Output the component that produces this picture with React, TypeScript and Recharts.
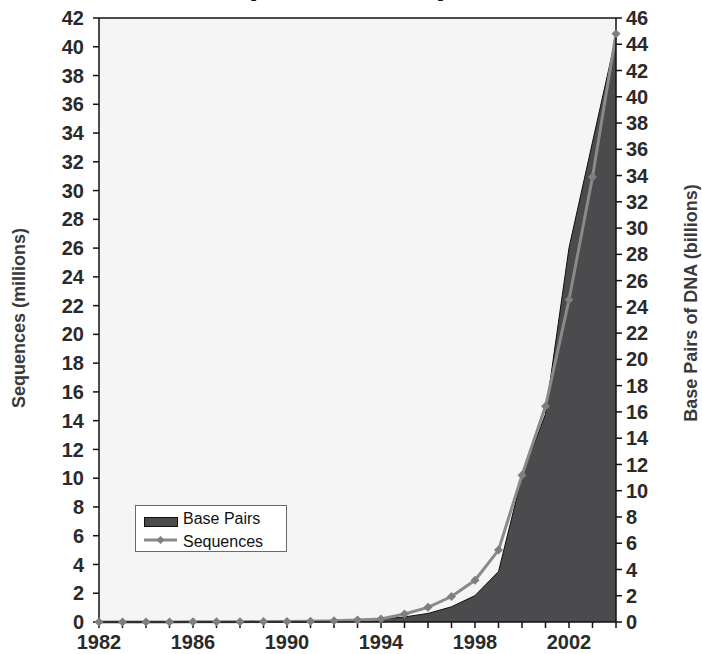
import {
  Area,
  CartesianGrid,
  ComposedChart,
  Legend,
  Line,
  ReferenceLine,
  XAxis,
  YAxis,
} from "recharts";

const YEARS = [
  1982, 1983, 1984, 1985, 1986, 1987, 1988, 1989, 1990, 1991, 1992, 1993,
  1994, 1995, 1996, 1997, 1998, 1999, 2000, 2001, 2002, 2003, 2004,
];

const LABELED_YEARS = [1982, 1986, 1990, 1994, 1998, 2002];

// Sequences, millions (left axis)
const SEQUENCES = [
  0.0006, 0.0024, 0.0042, 0.0057, 0.01, 0.0146, 0.0206, 0.0288, 0.0395,
  0.0556, 0.0786, 0.143, 0.215, 0.556, 1.02, 1.77, 2.9, 5.0, 10.2, 15.0,
  22.4, 30.95, 40.9,
];

// Base pairs of DNA, billions (right axis)
const BASE_PAIRS = [
  0.0007, 0.0023, 0.0034, 0.0052, 0.0096, 0.0155, 0.0238, 0.0348, 0.049,
  0.072, 0.101, 0.157, 0.217, 0.385, 0.652, 1.16, 2.01, 3.84, 11.1, 15.85,
  28.5, 36.55, 44.58,
];

const LEFT_TICKS = Array.from({ length: 22 }, (_, i) => i * 2);
const RIGHT_TICKS = Array.from({ length: 24 }, (_, i) => i * 2);

const data = YEARS.map((year, i) => ({
  year,
  seq: SEQUENCES[i],
  bp: BASE_PAIRS[i],
}));

const FONT = '"Liberation Sans", Arial, Helvetica, sans-serif';
const tickStyle = { fontSize: 20, fontWeight: 700, fill: "#2a2a2a", fontFamily: FONT };

const Diamond = (props: any) => {
  const { cx, cy } = props;
  if (cx == null || cy == null) return null;
  const r = 4.5;
  return (
    <polygon
      points={`${cx},${cy - r} ${cx + r},${cy} ${cx},${cy + r} ${cx - r},${cy}`}
      fill="#7f7f7f"
    />
  );
};

const LegendBox = () => (
  <svg width={153} height={48} style={{ display: "block" }}>
    <rect x={0.5} y={0.5} width={151} height={46} fill="#fff" stroke="#6a6a6a" />
    <rect x={9.5} y={12.5} width={33} height={9} fill="#4b4b4d" stroke="#111" />
    <text x={48} y={19} fontSize={16} fontFamily={FONT} fill="#111">
      Base Pairs
    </text>
    <line x1={9} y1={35} x2={42} y2={35} stroke="#8a8a8a" strokeWidth={3} />
    <polygon points="25.5,31 29.5,35 25.5,39 21.5,35" fill="#7f7f7f" />
    <text x={48} y={42} fontSize={16} fontFamily={FONT} fill="#111">
      Sequences
    </text>
  </svg>
);

export default function App() {
  return (
    <div
      style={{
        position: "relative",
        width: 702,
        height: 654,
        overflow: "hidden",
        background: "#fff",
      }}
    >
      <style>{"html,body{margin:0;padding:0;}"}</style>
      {/* title sits above the page edge, only the bottom of the parentheses shows */}
      <svg
        width={702}
        height={20}
        style={{ position: "absolute", left: 0, top: 0, overflow: "hidden" }}
      >
        <text
          x={347}
          y={-6}
          textAnchor="middle"
          fontSize={34}
          fontWeight={700}
          fontFamily={FONT}
          fill="#111"
        >
          (1982 - 2004)
        </text>
      </svg>
      <ComposedChart
        width={702}
        height={654}
        data={data}
        margin={{ top: 18, right: 0, bottom: 0, left: 0 }}
      >
        <CartesianGrid horizontal={false} vertical={false} fill="#f5f5f5" yAxisId="left" />
        <XAxis
          dataKey="year"
          type="number"
          domain={[1982, 2004]}
          ticks={YEARS}
          interval={0}
          tickFormatter={(v) => (LABELED_YEARS.includes(v) ? String(v) : "")}
          height={32}
          tickSize={6}
          tickMargin={7}
          tick={tickStyle}
          stroke="#111"
          strokeWidth={1.5}
        />
        <YAxis
          yAxisId="left"
          orientation="left"
          domain={[0, 42]}
          ticks={LEFT_TICKS}
          interval={0}
          width={99}
          tickSize={6}
          tickMargin={9}
          tick={tickStyle}
          stroke="#111"
          strokeWidth={1.5}
          label={{
            content: () => (
              <text
                transform="translate(25,318) rotate(-90)"
                textAnchor="middle"
                fontSize={18}
                fontWeight={700}
                fontFamily={FONT}
                fill="#3a3a3a"
              >
                Sequences (millions)
              </text>
            ),
          }}
        />
        <YAxis
          yAxisId="right"
          orientation="right"
          domain={[0, 46]}
          ticks={RIGHT_TICKS}
          interval={0}
          width={86}
          tickSize={6}
          tickMargin={4}
          tick={tickStyle}
          stroke="#111"
          strokeWidth={1.5}
          label={{
            content: () => (
              <text
                transform="translate(697,303) rotate(-90)"
                textAnchor="middle"
                fontSize={18}
                fontWeight={700}
                fontFamily={FONT}
                fill="#3a3a3a"
              >
                Base Pairs of DNA (billions)
              </text>
            ),
          }}
        />
        <ReferenceLine yAxisId="left" y={42} stroke="#111" strokeWidth={1.5} />
        <Area
          yAxisId="right"
          type="linear"
          dataKey="bp"
          name="Base Pairs"
          fill="#4b4b4d"
          fillOpacity={1}
          stroke="#111"
          strokeWidth={1}
          isAnimationActive={false}
        />
        <Line
          yAxisId="left"
          type="linear"
          dataKey="seq"
          name="Sequences"
          stroke="#8a8a8a"
          strokeWidth={3}
          dot={<Diamond />}
          activeDot={false}
          isAnimationActive={false}
        />
        <Legend
          layout="horizontal"
          verticalAlign="middle"
          align="center"
          content={() => <LegendBox />}
          wrapperStyle={{ position: "absolute", left: 135, top: 505, width: 153, height: 48 }}
        />
      </ComposedChart>
    </div>
  );
}
